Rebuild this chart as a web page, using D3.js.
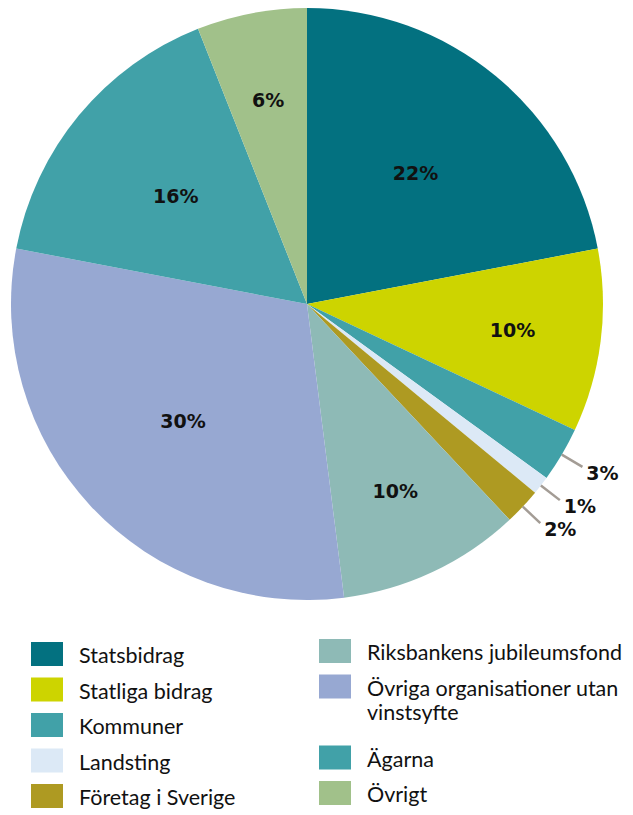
<!DOCTYPE html>
<html>
<head>
<meta charset="utf-8">
<script src="https://cdn.jsdelivr.net/npm/d3@7"></script>
<style>
  html, body { margin: 0; padding: 0; background: #fff; }
</style>
</head>
<body>
<div id="chart"></div>
<script>
// --- Data (clockwise from 12 o'clock) ---
const sliceNames = ["Statsbidrag", "Statliga bidrag", "Ägarna", "Landsting", "Företag i Sverige",
  "Riksbankens jubileumsfond", "Övriga organisationer utan vinstsyfte", "Kommuner", "Övrigt"];
const sliceValues = [22, 10, 3, 1, 2, 10, 30, 16, 6];
const sliceColors = ["#037180", "#cdd400", "#41a1a8", "#dce9f6", "#ae9a22",
  "#8ebab6", "#97a8d2", "#41a1a8", "#a1c18a"];

// legend columns (order as in the picture)
const legendLeft = ["Statsbidrag", "Statliga bidrag", "Kommuner", "Landsting", "Företag i Sverige"];
const legendRight = ["Riksbankens jubileumsfond", "Övriga organisationer utan|vinstsyfte", "Ägarna", "Övrigt"];

const width = 633, height = 815;
const cx = 307, cy = 304, radius = 296;

const svg = d3.select("#chart").append("svg")
  .attr("width", width)
  .attr("height", height);

const data = sliceNames.map((name, i) => ({ name, value: sliceValues[i], color: sliceColors[i] }));

const pie = d3.pie().value(d => d.value).sort(null);
const arcs = pie(data);

const arc = d3.arc().innerRadius(0).outerRadius(radius);
// wide slices get their label nearer the centre, narrow ones further out
const labelRadius = v => radius * (v >= 15 ? 0.575 : 0.7);

const g = svg.append("g").attr("transform", `translate(${cx},${cy})`);

// --- Slices ---
g.selectAll("path.slice")
  .data(arcs)
  .enter()
  .append("path")
  .attr("class", "slice")
  .attr("d", arc)
  .attr("fill", d => d.data.color);

// --- Inside labels (big slices) ---
const bigOnes = arcs.filter(d => d.data.value >= 5);
g.selectAll("text.pct-in")
  .data(bigOnes)
  .enter()
  .append("text")
  .attr("class", "pct-in")
  .attr("transform", d => {
    const r = labelRadius(d.data.value);
    return `translate(${d3.arc().innerRadius(r).outerRadius(r).centroid(d)})`;
  })
  .attr("text-anchor", "middle")
  .attr("dominant-baseline", "central")
  .attr("font-family", "DejaVu Sans")
  .attr("font-weight", "bold")
  .attr("font-size", 19)
  .attr("fill", "#111")
  .text(d => d.data.value + "%");

// --- Outside labels with leader lines (small slices) ---
const smallOnes = arcs.filter(d => d.data.value < 5);
const pt = (a, r) => [Math.sin(a) * r, -Math.cos(a) * r];

smallOnes.forEach(d => {
  const a = (d.startAngle + d.endAngle) / 2;
  const p1 = pt(a, radius);
  const p2 = pt(a, radius + 24);
  g.append("line")
    .attr("x1", p1[0]).attr("y1", p1[1])
    .attr("x2", p2[0]).attr("y2", p2[1])
    .attr("stroke", "#a39c95")
    .attr("stroke-width", 2.5);
  g.append("text")
    .attr("x", p2[0] + 20)
    .attr("y", p2[1] + 6)
    .attr("text-anchor", "middle")
    .attr("dominant-baseline", "central")
    .attr("font-family", "DejaVu Sans")
    .attr("font-weight", "bold")
    .attr("font-size", 19)
    .attr("fill", "#111")
    .text(d.data.value + "%");
});

// --- Legend ---
const colorOf = name => data.find(d => d.name === name.replace("|", " ")).color;
const rowStep = 35.5;

function drawLegend(items, x0, y0) {
  let row = 0;
  items.forEach(item => {
    const lines = item.split("|");
    const top = y0 + row * rowStep;
    svg.append("rect")
      .attr("x", x0)
      .attr("y", top)
      .attr("width", 32)
      .attr("height", 24)
      .attr("fill", colorOf(item));
    const t = svg.append("text")
      .attr("x", x0 + 48)
      .attr("y", top + 21)
      .attr("font-family", "Lato")
      .attr("font-size", 21.5)
      .attr("fill", "#111");
    lines.forEach((ln, i) => {
      t.append("tspan")
        .attr("x", x0 + 48)
        .attr("dy", i === 0 ? 0 : 24)
        .text(ln);
    });
    row += lines.length;
  });
}

drawLegend(legendLeft, 31, 642);
drawLegend(legendRight, 319, 639);
</script>
</body>
</html>
